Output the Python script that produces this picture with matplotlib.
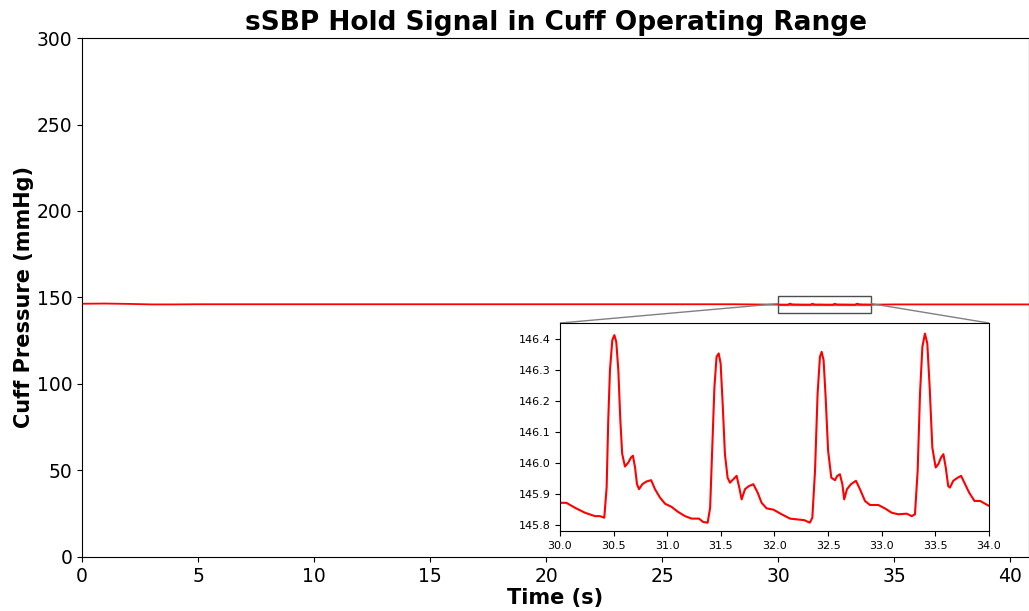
import numpy as np
import matplotlib.pyplot as plt
from matplotlib.patches import Rectangle
from mpl_toolkits.axes_grid1.inset_locator import mark_inset

# coarse readings of the hold signal outside the zoom window (s, mmHg)
coarse_t = [0.0, 1.0, 2.0, 3.0, 4.0, 5.0, 6.0, 7.0, 8.0, 9.0, 10.0, 11.0, 12.0, 13.0, 14.0,
            15.0, 16.0, 17.0, 18.0, 19.0, 20.0, 21.0, 22.0, 23.0, 24.0, 25.0, 26.0, 27.0, 28.0, 29.0]
coarse_p = [146.4, 146.5, 146.3, 146.0, 146.0, 146.1, 146.1, 146.1, 146.1, 146.1, 146.1, 146.1, 146.1, 146.1, 146.1,
            146.1, 146.1, 146.1, 146.1, 146.1, 146.1, 146.1, 146.1, 146.1, 146.1, 146.1, 146.1, 146.1, 146.1, 146.0]
tail_t = [35.0, 36.0, 37.0, 38.0, 39.0, 40.0, 40.8]
tail_p = [146.0, 146.0, 146.0, 146.0, 146.0, 146.0, 146.0]

# detailed readings inside the 30-34 s window (from the inset)
zoom_t = [30.00, 30.06, 30.14, 30.233, 30.326, 30.373, 30.413, 30.435, 30.45, 30.466, 30.488, 30.507,
          30.525, 30.544, 30.563, 30.58, 30.606, 30.637, 30.662, 30.68, 30.70, 30.718, 30.737, 30.768,
          30.808, 30.85, 30.886, 30.932, 30.98, 31.04, 31.10, 31.166, 31.228, 31.296, 31.336, 31.377,
          31.40, 31.42, 31.44, 31.46, 31.48, 31.498, 31.517, 31.538, 31.563, 31.585, 31.616, 31.647,
          31.672, 31.694, 31.725, 31.762, 31.803, 31.843, 31.88, 31.927, 31.99, 32.067, 32.145, 32.223,
          32.278, 32.33, 32.353, 32.378, 32.402, 32.424, 32.44, 32.458, 32.477, 32.50, 32.53, 32.564,
          32.586, 32.61, 32.633, 32.65, 32.676, 32.713, 32.76, 32.797, 32.844, 32.89, 32.968, 33.03,
          33.093, 33.155, 33.233, 33.28, 33.31, 33.335, 33.357, 33.379, 33.403, 33.425, 33.447, 33.472,
          33.503, 33.528, 33.553, 33.575, 33.597, 33.62, 33.636, 33.667, 33.708, 33.74, 33.777, 33.815,
          33.865, 33.918, 33.964, 34.00]
zoom_p = [145.872, 145.872, 145.856, 145.840, 145.829, 145.829, 145.824, 145.921, 146.137, 146.300, 146.397, 146.413,
          146.391, 146.300, 146.137, 146.030, 145.989, 146.002, 146.018, 146.024, 145.986, 145.932, 145.916, 145.932,
          145.941, 145.945, 145.916, 145.889, 145.869, 145.859, 145.843, 145.829, 145.821, 145.821, 145.810, 145.808,
          145.856, 146.050, 146.245, 146.343, 146.354, 146.321, 146.191, 146.029, 145.953, 145.937, 145.948, 145.959,
          145.921, 145.883, 145.916, 145.926, 145.932, 145.905, 145.872, 145.854, 145.850, 145.835, 145.821, 145.818,
          145.816, 145.808, 145.824, 145.975, 146.224, 146.343, 146.359, 146.332, 146.213, 146.040, 145.953, 145.945,
          145.959, 145.964, 145.932, 145.883, 145.916, 145.932, 145.943, 145.916, 145.878, 145.865, 145.865, 145.854,
          145.840, 145.835, 145.837, 145.829, 145.835, 145.975, 146.224, 146.375, 146.418, 146.386, 146.245, 146.050,
          145.986, 145.997, 146.018, 146.029, 145.986, 145.926, 145.921, 145.943, 145.953, 145.959, 145.932, 145.905,
          145.878, 145.878, 145.869, 145.862]

t = np.array(coarse_t + zoom_t + tail_t)
p = np.array(coarse_p + zoom_p + tail_p)

fig = plt.figure(figsize=(10.29, 6.11), dpi=100)
ax = fig.add_axes([0.0797, 0.0884, 0.9203, 0.8494])
ax.plot(t, p, color='red', lw=1.3)
ax.set_xlim(0, 40.8)
ax.set_ylim(0, 300)
ax.set_title('sSBP Hold Signal in Cuff Operating Range', fontsize=19, fontweight='bold', pad=6)
ax.set_xlabel('Time (s)', fontsize=15, fontweight='bold', labelpad=2)
ax.set_ylabel('Cuff Pressure (mmHg)', fontsize=15, fontweight='bold', labelpad=2)
ax.tick_params(labelsize=13.5)

# box around the zoomed region
ax.add_patch(Rectangle((30, 141), 4, 10, fill=False, edgecolor='0.3', lw=1))

axins = fig.add_axes([0.5442, 0.1309, 0.4169, 0.3404])
axins.plot(t, p, color='red', lw=1.5)
axins.set_xlim(30, 34)
axins.set_ylim(145.781, 146.452)
axins.tick_params(labelsize=8)
mark_inset(ax, axins, loc1=2, loc2=1, fc='none', ec='0.5')

plt.savefig('out.png', dpi=100)
